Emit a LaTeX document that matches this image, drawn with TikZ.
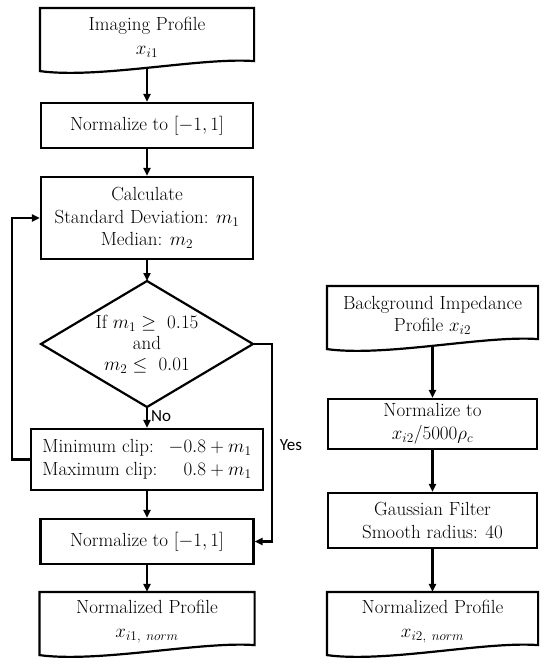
\RequirePackage{fix-cm}
\documentclass[tikz,border=0pt]{standalone}
\usepackage{fontspec}
\newfontfamily\carlito{Carlito}
\usetikzlibrary{arrows.meta,calc}
\tikzset{
  every picture/.style={line width=2.2pt},
  txt/.style={font=\fontsize{19}{22.5}\selectfont, align=center, inner sep=0pt},
  box/.style={txt, draw, minimum width=212pt},
  docnode/.style={txt, minimum width=#1, minimum height=57pt},
  arr/.style={-{Triangle[length=8pt,width=7pt]}},
  lbl/.style={font=\carlito\fontsize{17}{20}\selectfont, inner sep=0pt},
}
\newcommand{\docshape}[1]{%
  \draw ($(#1.north west)$) -- ($(#1.north east)$) -- ($(#1.south east)+(0,6)$)
    .. controls ($(#1.south east)+(-53,10)$) and ($(#1.south west)+(59,-12)$) ..
    ($(#1.south west)+(0,-4)$) -- cycle;}
\begin{document}
\begin{tikzpicture}[x=1pt,y=1pt]
\useasboundingbox (0,0) rectangle (550,-667);
% left column
\node[docnode=212pt] (d1) at (147,-37.5) {Imaging Profile\\[1pt] $x_{i1}$};
\docshape{d1}
\node[box, minimum height=45pt] (b1) at (147,-125.5) {Normalize to $[-1, 1]$};
\node[box, minimum height=82pt] (b2) at (147,-218) {Calculate\\ Standard Deviation: $m_1$\\ Median: $m_2$};
\coordinate (dtop) at (147,-281);
\coordinate (dright) at (253,-344);
\coordinate (dbot) at (147,-407);
\coordinate (dleft) at (41,-344);
\draw (dtop) -- (dright) -- (dbot) -- (dleft) -- cycle;
\node[txt, font=\fontsize{19}{21}\selectfont] (dia) at (147,-344) {If $m_1 \geq\ 0.15$\\ and\\ $m_2 \leq\ 0.01$};
\node[box, minimum width=232pt, minimum height=61pt] (b3) at (147,-459.5)
  {\begin{tabular}{@{}l@{\ \ }r@{}}Minimum clip: & $-0.8 + m_1$\\ Maximum clip: & $0.8 + m_1$\end{tabular}};
\node[box, minimum width=213pt, minimum height=45pt] (b4) at (147,-541.5) {Normalize to $[-1, 1]$};
\node[docnode=213pt] (d3) at (147,-621.5) {Normalized Profile\\[2pt] $x_{i1,\ norm}$};
\docshape{d3}
% right column
\node[docnode=209pt] (d2) at (432.5,-315.5) {Background Impedance\\ Profile $x_{i2}$};
\docshape{d2}
\node[box, minimum width=209pt, minimum height=50pt] (r1) at (432.5,-424) {Normalize to\\ $x_{i2}/5000\rho_c$};
\node[box, minimum width=209pt, minimum height=55pt] (r2) at (432.5,-520.5) {Gaussian Filter\\ Smooth radius: 40};
\node[docnode=209pt] (d4) at (432.5,-621.5) {Normalized Profile\\[2pt] $x_{i2,\ norm}$};
\docshape{d4}
% connectors
\draw[arr] (d1.south) -- (b1.north);
\draw[arr] (b1.south) -- (b2.north);
\draw[arr] (b2.south) -- (dtop);
\draw[arr] (dbot) -- (b3.north) node[lbl, pos=0.45, right=3pt] (no) {No};
\draw[arr] (b3.west) -- ++(-18,0) |- (b2.west);
\draw[arr] (dright) -- ++(19,0) |- (b4.east);
\node[lbl] (yes) at (291,-445) {Yes};
\draw[arr] (b3.south) -- (b4.north);
\draw[arr] (b4.south) -- (d3.north);
\draw[arr] (d2.south) -- (r1.north);
\draw[arr] (r1.south) -- (r2.north);
\draw[arr] (r2.south) -- (d4.north);
\end{tikzpicture}
\end{document}
